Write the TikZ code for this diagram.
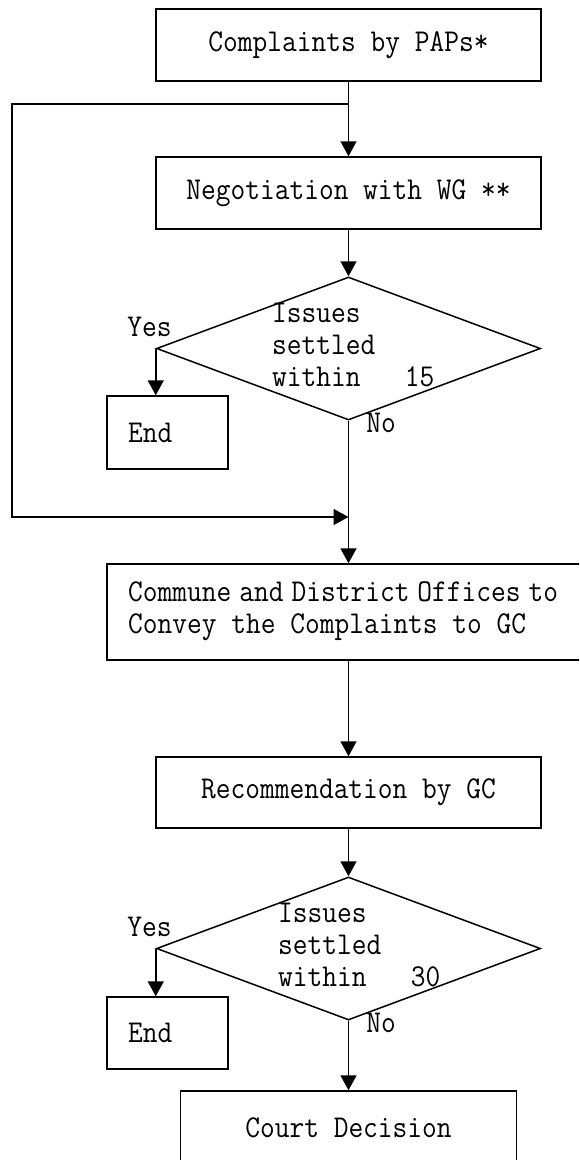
\documentclass[tikz,border=0pt]{standalone}
\usepackage{fontspec}
\setmonofont{Latin Modern Mono}[FakeStretch=0.9]
\usetikzlibrary{arrows.meta,shapes.geometric}
\begin{document}
\begin{tikzpicture}[x=1pt,y=-1pt,
  every node/.style={font=\ttfamily\fontsize{31.8}{32}\selectfont, inner sep=0pt},
  box/.style={draw, line width=1.5pt, rectangle, minimum width=385pt, minimum height=72pt},
  endbox/.style={draw, line width=1.5pt, rectangle, minimum width=121pt, minimum height=73pt},
  decision/.style={draw, line width=1.5pt, diamond, minimum width=384pt, minimum height=143pt},
  flow/.style={line width=1.6pt, -{Triangle[length=15pt,width=16pt]}}]
\useasboundingbox (0,0) rectangle (579,1160);
\clip (0,0) rectangle (579,1160);

% process boxes
\node[box] (b1) at (348.5,45) {Complaints by PAPs*};
\node[box] (b2) at (348.5,193) {Negotiation with WG **};
\node[box, minimum width=513pt, minimum height=96pt] (b3) at (363.5,612) {};
\node[anchor=west, align=left] (b3t) at (128,611)
  {Commune\hspace{8pt}and\hspace{8pt}District\hspace{8pt}Offices\hspace{8pt}to\\Convey the Complaints to GC};
\node[box, minimum height=71pt] (b4) at (348.5,792.5) {Recommendation by GC};
\node[box, minimum width=336pt, minimum height=74pt] (b5) at (348.5,1128) {Court Decision};

% decisions
\node[decision] (d1) at (348.5,348.5) {};
\node[anchor=west, align=left] (d1t) at (272,345) {Issues\\settled\\within\ \ \ 15};
\node[decision] (d2) at (348.5,948.5) {};
\node[anchor=west, align=left] (d2t) at (278,945) {Issues\\settled\\within\ \ \ 30};

% end boxes
\node[endbox] (e1) at (167.5,432.5) {};
\node[anchor=west] (e1t) at (128,433) {End};
\node[endbox, minimum height=72pt] (e2) at (167.5,1033) {};
\node[anchor=west] (e2t) at (128,1033) {End};

% branch labels
\node (y1) at (149.5,327) {Yes};
\node (n1) at (381,423) {No};
\node (y2) at (149.5,927) {Yes};
\node (n2) at (381,1023) {No};

% loop points
\coordinate (j1) at (348.5,104);
\coordinate (lb) at (12,517);
\coordinate (j2) at (348.5,517);

% connectors
\draw[flow] (b1.south) -- (b2.north);
\draw[flow] (b2.south) -- (d1.north);
\draw[flow] (d1.west) -- (d1.west |- e1.north);
\draw[flow] (d1.south) -- (d1.south |- b3.north);
\draw[flow] (j1) -| (lb) -- (j2);
\draw[flow] (b4.north |- b3.south) -- (b4.north);
\draw[flow] (b4.south) -- (d2.north);
\draw[flow] (d2.west) -- (d2.west |- e2.north);
\draw[flow] (d2.south) -- (b5.north);
\end{tikzpicture}
\end{document}
